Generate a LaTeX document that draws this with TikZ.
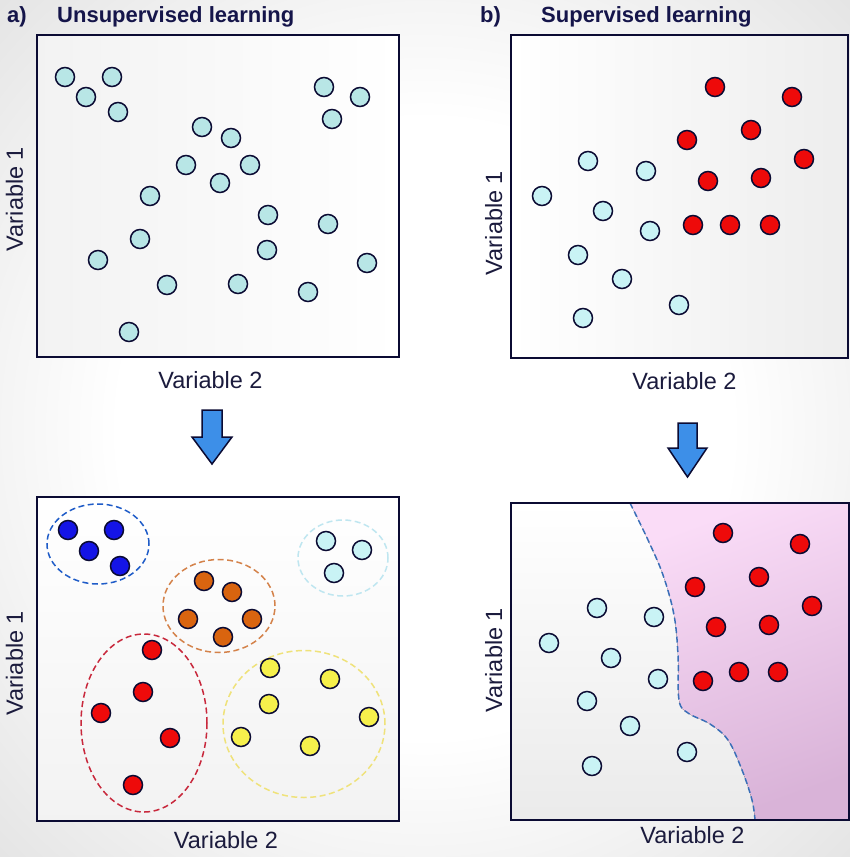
\documentclass[tikz,border=0pt]{standalone}
\usepackage{fontspec}
\setmainfont{Liberation Sans}
\usetikzlibrary{positioning,shapes.geometric,calc}
\definecolor{navy}{HTML}{0B0B33}
\definecolor{labtext}{HTML}{1B1B3D}
\definecolor{titletext}{HTML}{15154A}
\definecolor{cyanA}{HTML}{B8E6E6}
\definecolor{cyanB}{HTML}{C9F3F5}
\definecolor{redpt}{HTML}{EE0A0A}
\definecolor{bluept}{HTML}{1414E6}
\definecolor{orangept}{HTML}{D9640F}
\definecolor{yellowpt}{HTML}{F6F04C}
\definecolor{blueline}{HTML}{1F5CC8}
\definecolor{cyanline}{HTML}{BFE6F0}
\definecolor{orangeline}{HTML}{D4824A}
\definecolor{redline}{HTML}{C8283C}
\definecolor{yellowline}{HTML}{EFE27A}
\definecolor{borderline}{HTML}{3A6FB8}
\definecolor{arrowblue}{HTML}{3D8FE8}
\definecolor{pinkA}{HTML}{FADCF7}
\definecolor{pinkB}{HTML}{D9B3D8}
\pgfdeclareradialshading{vign}{\pgfpoint{0bp}{0bp}}{color(0bp)=(white); color(18bp)=(white); color(40bp)=(black!13); color(50bp)=(black!24)}
\tikzset{
    panel/.style={
    rectangle,draw=navy,line width=2.6pt,inner sep=0pt,outer sep=0pt
    },
    frame/.style={
    draw=navy,line width=2.6pt
    },
    dot/.style={
    circle,draw=navy,line width=1.5pt,minimum size=19pt,inner sep=0pt
    },
    group/.style={
    ellipse,line width=1.5pt,dash pattern=on 6pt off 3.5pt,inner sep=0pt
    },
    varlabel/.style={
    font=\fontsize{23.5}{28}\selectfont,text=labtext,anchor=base,inner sep=0pt
    },
    title/.style={
    font=\fontsize{22}{26}\selectfont\bfseries,text=titletext,anchor=base west,inner sep=0pt
    },
    bigarrow/.style={
    draw=navy,line width=1.5pt,fill=arrowblue,line join=miter
    },
}
\begin{document}
\begin{tikzpicture}[x=1pt,y=-1pt]
  \useasboundingbox (0,0) rectangle (850,857);
  \shade[shading=vign] (0,0) rectangle (850,857);

  % titles
  \node[title] (TA) at (7,22.5) {a)};
  \node[title] (TTA) at (57,22.5) {Unsupervised learning};
  \node[title] (TB) at (480,22.5) {b)};
  \node[title] (TTB) at (541,22.5) {Supervised learning};

  % panels
  \node[panel,minimum width=362pt,minimum height=322pt,left color=black!5,right color=white] (PA) at (218,196) {};
  \node[panel,minimum width=337pt,minimum height=323pt,left color=white,right color=black!7] (PB) at (679.5,196.5) {};
  \node[panel,minimum width=362pt,minimum height=324pt,shading angle=45,top color=white,bottom color=black!5] (PC) at (218,659) {};
  \node[panel,minimum width=338pt,minimum height=317pt,shading angle=45,top color=white,bottom color=black!8] (PD) at (680,661.5) {};

  % axis labels
  \node[varlabel] (XA) at (210.5,388) {Variable 2};
  \node[varlabel] (XB) at (684.5,389) {Variable 2};
  \node[varlabel] (XC) at (226,848) {Variable 2};
  \node[varlabel] (XD) at (692.5,843) {Variable 2};
  \node[varlabel,rotate=90] (YA) at (23,199) {Variable 1};
  \node[varlabel,rotate=90] (YB) at (502,223) {Variable 1};
  \node[varlabel,rotate=90] (YC) at (23,663) {Variable 1};
  \node[varlabel,rotate=90] (YD) at (502,660) {Variable 1};

  % decision region
  \fill[top color=pinkA,bottom color=pinkB,shading angle=20]
    plot[smooth,tension=0.6] coordinates {(630,503) (648,540) (663,575) (674,615) (678,655) (679,700) (688,713) (710,724) (728,740) (742,770) (752,800) (755,820)}
    -- (PD.south east) -- (PD.north east) -- cycle;
  \draw[borderline,line width=1.5pt,dash pattern=on 6pt off 3.5pt]
    plot[smooth,tension=0.6] coordinates {(630,503) (648,540) (663,575) (674,615) (678,655) (679,700) (688,713) (710,724) (728,740) (742,770) (752,800) (755,820)};
  \draw[frame] (PD.north west) rectangle (PD.south east);

  % cluster outlines
  \node[group,draw=blueline,minimum width=102pt,minimum height=80pt] (GBLUE) at (98,544) {};
  \node[group,draw=cyanline,minimum width=90pt,minimum height=76pt] (GCYAN) at (343,558) {};
  \node[group,draw=orangeline,minimum width=112pt,minimum height=93pt] (GORANGE) at (219,606) {};
  \node[group,draw=redline,minimum width=126pt,minimum height=178pt] (GRED) at (144,723) {};
  \node[group,draw=yellowline,minimum width=162pt,minimum height=147pt] (GYELLOW) at (304,724) {};

  % data points
  \foreach \x/\y [count=\i] in {65/77,112/77,86/97,118/112,324/87,360/97,332/119,202/127,231/138,186/165,250/165,220/183,150/196,268/215,328/224,140/239,267/250,98/260,367/263,167/285,238/284,308/292,129/332}
    \node[dot,fill=cyanA] (A\i) at (\x,\y) {};
  \foreach \x/\y [count=\i] in {715/87,792/97,751/130,687/140,804/159,708/181,761/178,693/225,730/225,770/225}
    \node[dot,fill=redpt] (BR\i) at (\x,\y) {};
  \foreach \x/\y [count=\i] in {588/161,646/171,542/196,603/211,650/231,578/255,622/279,679/305,583/318}
    \node[dot,fill=cyanB] (BC\i) at (\x,\y) {};
  \foreach \x/\y [count=\i] in {68/530,114/530,89/551,120/566}
    \node[dot,fill=bluept] (CB\i) at (\x,\y) {};
  \foreach \x/\y [count=\i] in {326/541,362/550,334/573}
    \node[dot,fill=cyanB] (CC\i) at (\x,\y) {};
  \foreach \x/\y [count=\i] in {204/581,232/592,188/619,252/619,223/637}
    \node[dot,fill=orangept] (CO\i) at (\x,\y) {};
  \foreach \x/\y [count=\i] in {152/650,143/692,101/713,170/738,133/785}
    \node[dot,fill=redpt] (CR\i) at (\x,\y) {};
  \foreach \x/\y [count=\i] in {270/668,330/679,269/704,369/717,241/737,310/746}
    \node[dot,fill=yellowpt] (CY\i) at (\x,\y) {};
  \foreach \x/\y [count=\i] in {723/533,800/544,759/577,695/587,812/606,716/627,769/625,739/672,778/672,703/681}
    \node[dot,fill=redpt] (DR\i) at (\x,\y) {};
  \foreach \x/\y [count=\i] in {597/608,654/617,549/643,611/658,658/679,587/701,630/726,687/752,592/766}
    \node[dot,fill=cyanB] (DC\i) at (\x,\y) {};

  % arrows
  \draw[bigarrow] (202,410) -- (222,410) -- (222,437) -- (232,437) -- (212,464) -- (192,437) -- (202,437) -- cycle;
  \draw[bigarrow] (678,423) -- (697,423) -- (697,448) -- (707,448) -- (687.5,477) -- (668,448) -- (678,448) -- cycle;
\end{tikzpicture}
\end{document}
